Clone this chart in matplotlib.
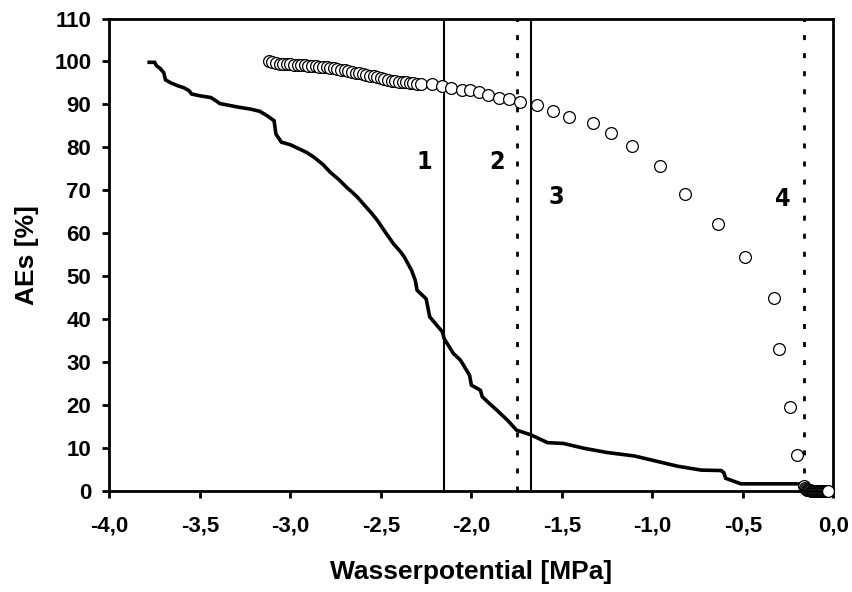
import numpy as np
import matplotlib
matplotlib.use("Agg")
import matplotlib.pyplot as plt
from matplotlib.ticker import FuncFormatter

# open circles (x in MPa, y in %)
circ_x = [-3.12, -3.10, -3.08, -3.06, -3.04, -3.02, -3.00, -2.98, -2.96, -2.94,
          -2.92, -2.90, -2.88, -2.86, -2.84, -2.82, -2.80, -2.78, -2.76, -2.74,
          -2.72, -2.70, -2.68, -2.66, -2.64, -2.62, -2.60, -2.58, -2.56, -2.54,
          -2.52, -2.50, -2.48, -2.46, -2.44, -2.42, -2.40, -2.38, -2.36, -2.34,
          -2.32, -2.30, -2.28,
          -2.22, -2.16, -2.11, -2.05, -2.01, -1.96, -1.91, -1.85, -1.79, -1.73,
          -1.64, -1.55, -1.46, -1.33, -1.23, -1.11, -0.96, -0.82, -0.64, -0.49,
          -0.33, -0.30, -0.24, -0.20, -0.16,
          -0.155, -0.15, -0.145, -0.14, -0.135, -0.13, -0.125, -0.12, -0.115, -0.11,
          -0.105, -0.10, -0.095, -0.09, -0.085, -0.08, -0.075, -0.07, -0.065, -0.06,
          -0.055, -0.05, -0.045, -0.04, -0.035, -0.03]
circ_y = [100.2, 99.9, 99.7, 99.5, 99.4, 99.3, 99.3, 99.2, 99.2, 99.1,
          99.1, 99.0, 99.0, 98.9, 98.8, 98.8, 98.6, 98.5, 98.4, 98.3,
          98.1, 98.0, 97.8, 97.6, 97.4, 97.3, 97.1, 96.9, 96.7, 96.5,
          96.3, 96.1, 95.9, 95.7, 95.5, 95.4, 95.3, 95.2, 95.1, 95.0,
          94.9, 94.8, 94.8,
          94.7, 94.3, 93.8, 93.3, 93.3, 92.9, 92.3, 91.6, 91.3, 90.5,
          89.9, 88.5, 87.0, 85.7, 83.3, 80.2, 75.7, 69.2, 62.1, 54.4,
          44.9, 33.1, 19.5, 8.3, 1.2,
          0.6, 0.3, 0.2, 0.1, 0.1, 0.1, 0, 0, 0, 0,
          0, 0, 0, 0, 0, 0, 0, 0, 0, 0,
          0, 0, 0, 0, 0, 0]

# cumulative curve
curve_x = [-3.78, -3.75, -3.74, -3.72, -3.70, -3.69, -3.66, -3.62, -3.59, -3.56,
           -3.545, -3.50, -3.44, -3.41, -3.39, -3.33, -3.28, -3.22, -3.17, -3.13,
           -3.09, -3.08, -3.05, -3.00, -2.95, -2.91, -2.87, -2.82, -2.78, -2.73,
           -2.69, -2.66, -2.63, -2.58, -2.55, -2.52, -2.47, -2.43, -2.39, -2.37,
           -2.33, -2.31, -2.30, -2.25, -2.23, -2.16, -2.15, -2.10, -2.06, -2.01,
           -2.00, -1.95, -1.94, -1.90, -1.86, -1.80, -1.75, -1.67, -1.62, -1.58,
           -1.49, -1.38, -1.25, -1.10, -0.99, -0.86, -0.73, -0.62, -0.605, -0.595,
           -0.55, -0.51, -0.18, -0.16, -0.15, -0.03]
curve_y = [99.8, 99.8, 99.0, 98.4, 97.4, 95.7, 95.0, 94.3, 93.9, 93.2,
           92.4, 92.0, 91.6, 90.8, 90.2, 89.7, 89.3, 88.9, 88.4, 87.4,
           86.2, 83.1, 81.2, 80.6, 79.6, 78.8, 77.7, 76.0, 74.2, 72.4,
           70.7, 69.6, 68.4, 66.0, 64.6, 63.0, 59.9, 57.5, 55.6, 54.4,
           51.3, 49.0, 46.7, 44.7, 40.5, 37.0, 35.4, 32.0, 30.4, 26.9,
           24.6, 23.4, 21.9, 20.3, 18.8, 16.4, 14.1, 13.0, 12.0, 11.2,
           11.0, 9.9, 8.9, 8.1, 7.0, 5.7, 4.8, 4.7, 4.2, 2.9,
           2.2, 1.6, 1.6, 1.2, 0, 0]

solid_x = [-2.15, -1.67]
dotted_x = [-1.75, -0.16]

zone_labels = ["1", "2", "3", "4"]
zone_x = [-2.26, -1.86, -1.53, -0.28]
zone_y = [76.5, 76.5, 68.4, 68.0]

plt.rcParams['font.family'] = ['Liberation Sans', 'DejaVu Sans']
plt.rcParams['font.weight'] = 'bold'

fig = plt.figure(figsize=(8.52, 5.92), dpi=100)
ax = fig.add_axes([0.1284, 0.1711, 0.8497, 0.7976])

ax.plot(curve_x, curve_y, color='black', lw=2.6, solid_joinstyle='miter', zorder=3)
ax.plot(circ_x, circ_y, 'o', mfc='white', mec='black', ms=8.5, mew=0.9, zorder=4,
        clip_on=False)

for x in solid_x:
    ax.axvline(x, color='black', lw=1.5, zorder=2)
for x in dotted_x:
    ax.axvline(x, color='black', lw=2, dashes=(1.8, 4.7), zorder=2)

for s, x, y in zip(zone_labels, zone_x, zone_y):
    ax.text(x, y, s, ha='center', va='center', fontsize=18, fontweight='bold',
            family=['Liberation Sans Narrow', 'DejaVu Sans'], fontstretch='condensed')

ax.set_xlim(-4.0, 0.0)
ax.set_ylim(0, 110)
ax.set_xticks(np.arange(-4.0, 0.01, 0.5))
ax.set_yticks(np.arange(0, 111, 10))
ax.xaxis.set_major_formatter(FuncFormatter(lambda v, p: ("%.1f" % v).replace(".", ",")))

for sp in ax.spines.values():
    sp.set_linewidth(2)
ax.tick_params(direction='out', length=5, width=2, labelsize=16, pad=8)
ax.tick_params(axis='x', pad=13)

ax.set_xlabel("Wasserpotential [MPa]", fontsize=19, fontweight='bold', labelpad=17)
ax.set_ylabel("AEs [%]", fontsize=19, fontweight='bold', labelpad=11)

fig.savefig("out.png", dpi=100)
